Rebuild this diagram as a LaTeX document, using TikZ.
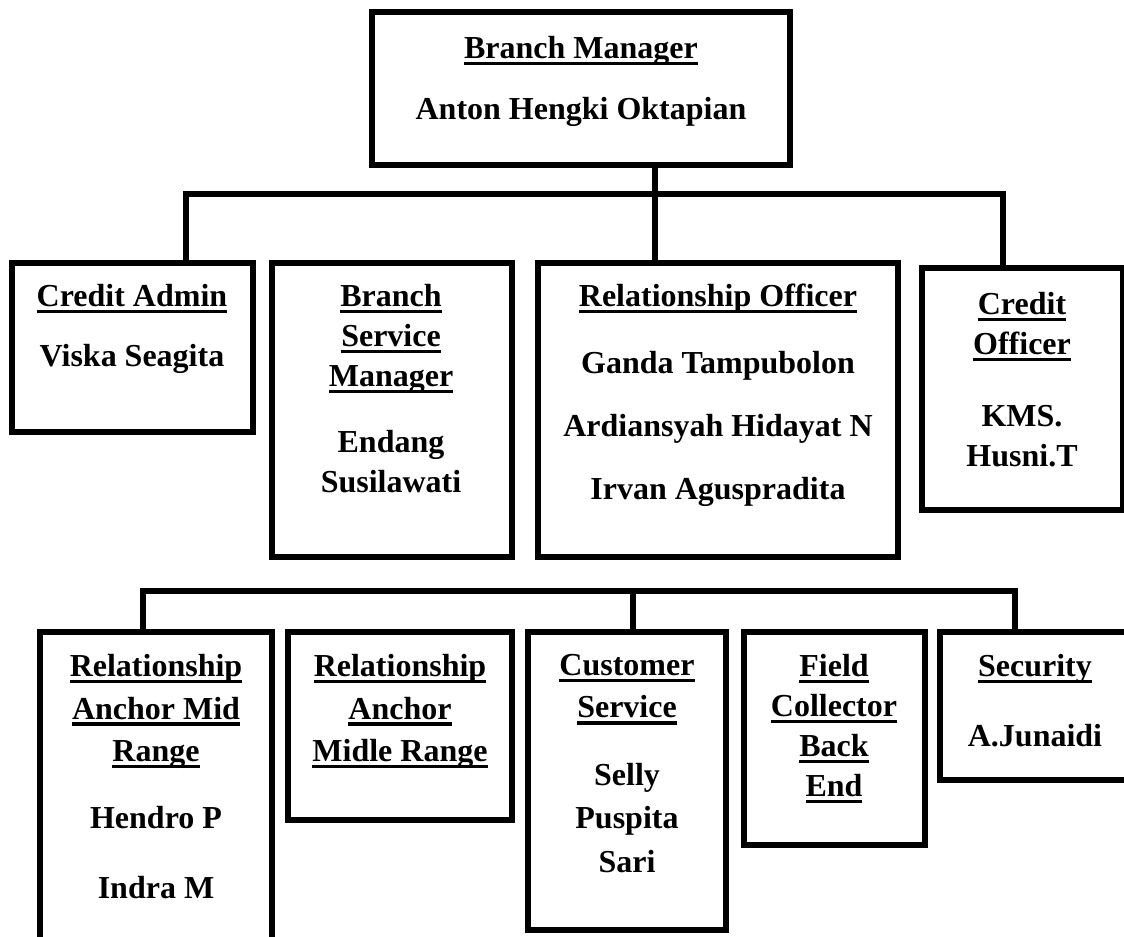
\documentclass[tikz,border=0pt]{standalone}
\usepackage{fontspec}
\setmainfont{Liberation Serif}
\usetikzlibrary{fit}
\newlength\ttlw
\newcommand{\ttl}[1]{\settowidth{\ttlw}{#1}\rlap{\rule[-5pt]{\ttlw}{2.4pt}}#1}
\tikzset{
  box/.style={draw, line width=4.5pt, inner sep=0pt},
  txt/.style={font=\fontsize{24}{30}\selectfont\bfseries, align=center, anchor=north, inner sep=0pt},
  link/.style={line width=3.8pt},
}

\begin{document}
\begin{tikzpicture}[x=0.75pt, y=-0.75pt]
	\clip (0,0) rectangle (1124,937);
	% top
	\node[box, fit={(372,12) (790,165)}] (bm) {};
	\node[txt] (bmt) at (581,36) {\ttl{Branch Manager}\\[15.75pt]Anton Hengki Oktapian};
	% second row
	\node[box, fit={(12,263) (253,432)}] (ca) {};
	\node[box, fit={(272,263) (512,557)}] (bsm) {};
	\node[box, fit={(538,263) (898,557)}] (ro) {};
	\node[box, fit={(922,268) (1123,510)}] (co) {};
	\node[txt] (cat) at (132,284) {\ttl{Credit Admin}\\[15pt]Viska Seagita};
	\node[txt] (bsmt) at (391,284) {\ttl{Branch}\\\ttl{Service}\\\ttl{Manager}\\[19.5pt]Endang\\Susilawati};
	\node[txt] (rot) at (718,284) {\ttl{Relationship Officer}\\[20.25pt]Ganda Tampubolon\\[17.25pt]Ardiansyah Hidayat N\\[17.25pt]Irvan Aguspradita};
	\node[txt] (cot) at (1022,292) {\ttl{Credit}\\\ttl{Officer}\\[24pt]KMS.\\Husni.T};
	% third row
	\node[box, fit={(40,632) (272,950)}] (ramr) {};
	\node[box, fit={(288,632) (512,820)}] (rami) {};
	\node[box, fit={(528,632) (726,930)}] (cs) {};
	\node[box, fit={(744,632) (925,845)}] (fc) {};
	\node[box, fit={(940,632) (1130,780)}] (sec) {};
	\node[txt] (ramrt) at (156,654) {\ttl{Relationship}\\[1.9pt]\ttl{Anchor Mid}\\[1.9pt]\ttl{Range}\\[20.25pt]Hendro P\\[22.5pt]Indra M};
	\node[txt] (ramit) at (400,654) {\ttl{Relationship}\\[1.9pt]\ttl{Anchor}\\[1.9pt]\ttl{Midle Range}};
	\node[txt] (cst) at (627,654) {\ttl{Customer}\\[1.9pt]\ttl{Service}\\[21pt]Selly\\[2.25pt]Puspita\\[3pt]Sari};
	\node[txt] (fct) at (834,654) {\ttl{Field}\\\ttl{Collector}\\\ttl{Back}\\\ttl{End}};
	\node[txt] (sect) at (1035,654) {\ttl{Security}\\[22.5pt]A.Junaidi};
	% lines
	\coordinate (j1) at (655,194);
	\coordinate (k1) at (186,194);
	\coordinate (k2) at (1003,194);
	\draw[link] (bm.south -| j1) -- (ro.north -| j1);
	\draw[link] (ca.north -| k1) -- (k1) -- (k2) -- (co.north -| k2);
	\coordinate (m1) at (143,591);
	\coordinate (m2) at (633,591);
	\coordinate (m3) at (1015,591);
	\draw[link] (ramr.north -| m1) -- (m1) -- (m3) -- (sec.north -| m3);
	\draw[link] (m2) -- (cs.north -| m2);
\end{tikzpicture}
\end{document}
